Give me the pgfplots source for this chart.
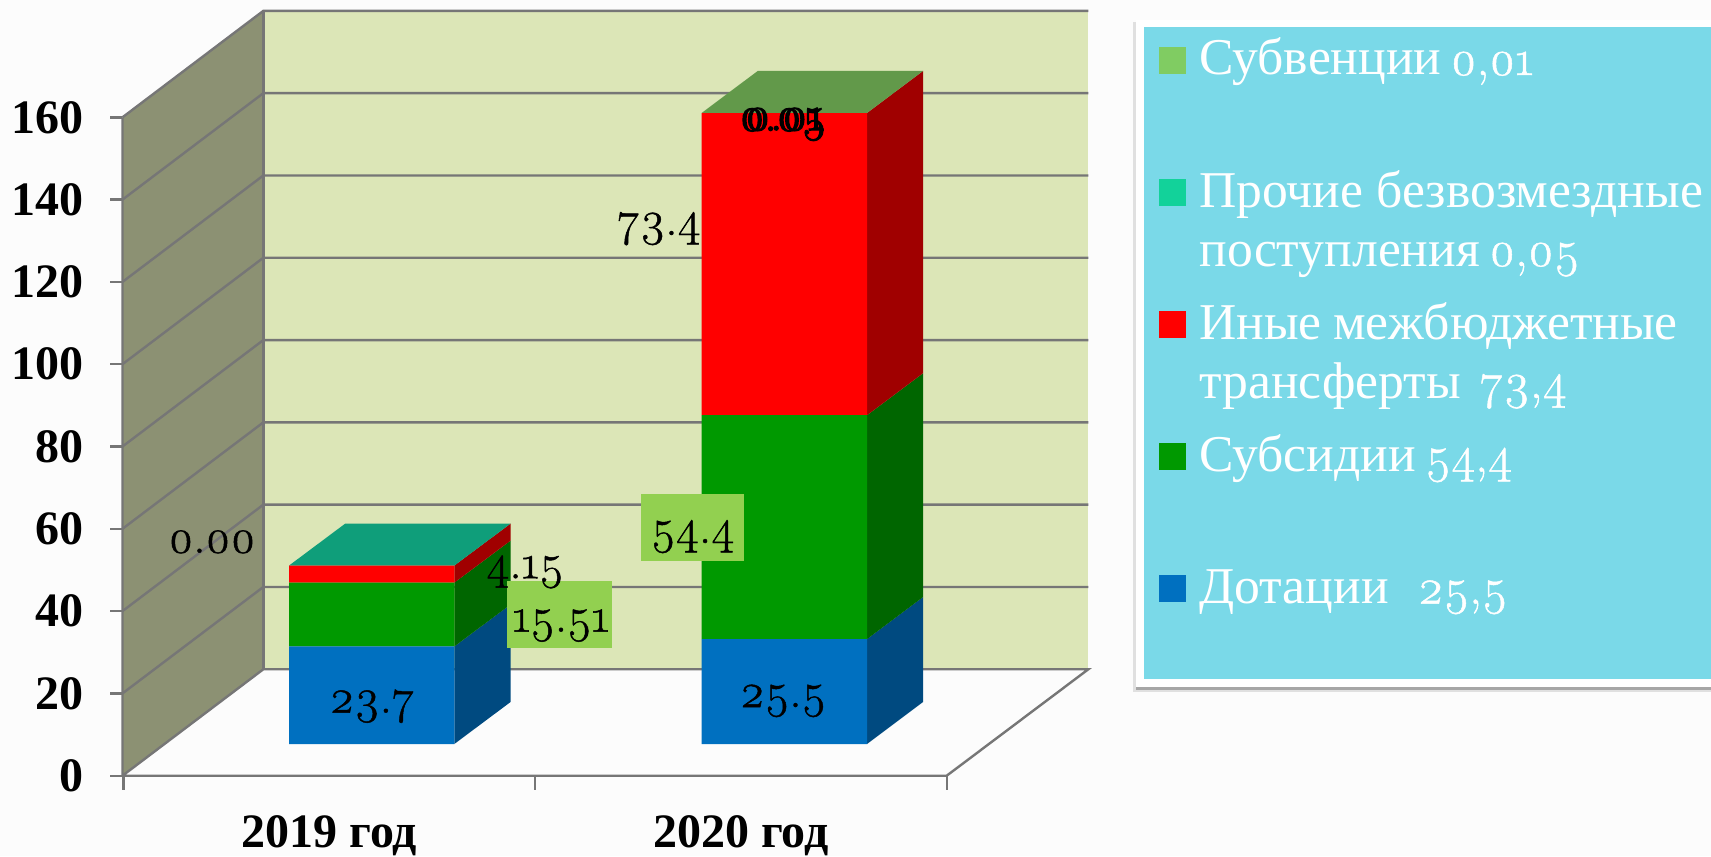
\documentclass[border=0pt]{standalone}
\usepackage{fontspec}
\setmainfont{Liberation Serif}
\newfontfamily\lmos{Latin Modern Roman}[Numbers=OldStyle,FakeBold=1.0]
\newfontfamily\lmosb{Latin Modern Roman}[Numbers=OldStyle,FakeBold=2.5]
\usepackage{pgfplots}
\pgfplotsset{compat=1.18}
\definecolor{wallL}{HTML}{8C9173}
\definecolor{wallB}{HTML}{DCE6B7}
\definecolor{gl}{HTML}{767676}
\definecolor{cBlue}{HTML}{0070C0}
\definecolor{cBlueS}{HTML}{004A80}
\definecolor{cGreen}{HTML}{009900}
\definecolor{cGreenS}{HTML}{006600}
\definecolor{cRed}{HTML}{FF0000}
\definecolor{cRedS}{HTML}{A00000}
\definecolor{cTealT}{HTML}{0F9E7A}
\definecolor{cLimeT}{HTML}{62994A}
\definecolor{cTeal}{HTML}{12D29A}
\definecolor{cLime}{HTML}{80CC62}
\definecolor{panel}{HTML}{7AD9E8}
\definecolor{lab}{HTML}{92D050}
\pgfplotsset{
  box/.style={scale only axis,width=794.25pt,height=387.85pt,xmin=122.5,xmax=1711,clip=false},
  poly/.style={fill=#1,draw=none,forget plot},
  grl/.style={draw=gl,line width=1.2pt,forget plot},
  barbox/.style={box,hide axis,ymin=-7.7,ymax=180.81}
}
\newcommand{\lf}{\fontsize{25.8}{26}\selectfont\color{white}\spaceskip=0.22em\relax}
\newcommand{\df}{\fontsize{24}{24}\lmos}
\newcommand{\ld}[1]{\hspace{-0.04em}{\fontsize{25}{26}\lmos #1}}
\begin{document}
\begin{tikzpicture}
\useasboundingbox (-61.25pt,-40.15pt) rectangle ++(855.5pt,428pt);
\fill[white!99!black] (-61.25pt,-40.15pt) rectangle ++(855.5pt,428pt);
% frame: walls, gridlines, value axis
\begin{axis}[box,ymin=0,ymax=188.51,
  axis line style={draw=none},
  tick align=outside,xtick pos=bottom,ytick pos=left,
  ytick={0,20,40,60,80,100,120,140,160},
  xtick={329.3,740.8},xticklabels={2019 год,2020 год},
  minor xtick={123.6,535,946.7},
  major tick length=6pt,minor tick length=7pt,
  ytick style={draw=gl,line width=1.2pt},
  xtick style={draw=none},
  minor x tick style={draw=gl,line width=1.2pt},
  /pgf/number format/assume math mode=true,
  tick label style={font=\fontsize{24}{24}\bfseries\selectfont,text=black},
  yticklabel style={xshift=-10pt},
  xticklabel style={yshift=-10.5pt},
]
\addplot[poly=wallL] coordinates {(122.5,0)(263.3,25.86)(263.3,185.86)(122.5,160)} -- cycle;
\addplot[poly=wallB] coordinates {(263.3,25.86)(1088.3,25.86)(1088.3,185.86)(263.3,185.86)} -- cycle;
\addplot[grl] coordinates {(122.5,160)(122.5,0)(946.7,0)(1088.3,25.86)(263.3,25.86)(122.5,0)};
\addplot[grl] coordinates {(263.3,25.86)(263.3,185.86)};
\addplot[grl] coordinates {(122.5,20)(263.3,45.86)(1088.3,45.86)};
\addplot[grl] coordinates {(122.5,40)(263.3,65.86)(1088.3,65.86)};
\addplot[grl] coordinates {(122.5,60)(263.3,85.86)(1088.3,85.86)};
\addplot[grl] coordinates {(122.5,80)(263.3,105.86)(1088.3,105.86)};
\addplot[grl] coordinates {(122.5,100)(263.3,125.86)(1088.3,125.86)};
\addplot[grl] coordinates {(122.5,120)(263.3,145.86)(1088.3,145.86)};
\addplot[grl] coordinates {(122.5,140)(263.3,165.86)(1088.3,165.86)};
\addplot[grl] coordinates {(122.5,160)(263.3,185.86)(1088.3,185.86)};
\end{axis}
% side and top faces of the bars
\begin{axis}[barbox]
\addplot[poly=cBlueS] coordinates {(454.3,0)(510.5,10.2)(510.5,33.9)(454.3,23.7)} -- cycle;
\addplot[poly=cGreenS] coordinates {(454.3,23.7)(510.5,33.9)(510.5,49.41)(454.3,39.21)} -- cycle;
\addplot[poly=cRedS] coordinates {(454.3,39.21)(510.5,49.41)(510.5,53.56)(454.3,43.36)} -- cycle;
\addplot[poly=cTealT] coordinates {(289,43.36)(454.3,43.36)(510.5,53.56)(345.2,53.56)} -- cycle;
\addplot[poly=cBlueS] coordinates {(867,0)(923,10.2)(923,35.7)(867,25.5)} -- cycle;
\addplot[poly=cGreenS] coordinates {(867,25.5)(923,35.7)(923,90.1)(867,79.9)} -- cycle;
\addplot[poly=cRedS] coordinates {(867,79.9)(923,90.1)(923,163.56)(867,153.36)} -- cycle;
\addplot[poly=cLimeT] coordinates {(701.7,153.36)(867,153.36)(923,163.56)(757.7,163.56)} -- cycle;
\end{axis}
% stacked bars: front faces
\begin{axis}[barbox,ybar stacked,bar width=165.3]
\addplot[fill=cBlue,draw=none] coordinates {(371.65,23.7)(784.35,25.5)};
\addplot[fill=cGreen,draw=none] coordinates {(371.65,15.51)(784.35,54.4)};
\addplot[fill=cRed,draw=none] coordinates {(371.65,4.15)(784.35,73.4)};
\addplot[fill=cTeal,draw=none] coordinates {(371.65,0.00)(784.35,0.05)};
\addplot[fill=cLime,draw=none] coordinates {(371.65,0.00)(784.35,0.01)};
\end{axis}
% overlay in picture pixels: labels and legend panel
\begin{axis}[box,hide axis,ymin=0,ymax=775.7,y dir=reverse]
\addplot[poly=lab] coordinates {(507,581)(612,581)(612,647.7)(507,647.7)} -- cycle;
\addplot[poly=lab] coordinates {(641,494)(744,494)(744,561)(641,561)} -- cycle;
\addplot[poly=black!12] coordinates {(1133,22)(1711,22)(1711,692)(1133,692)} -- cycle;
\addplot[poly=black!35] coordinates {(1136,686)(1711,686)(1711,690)(1136,690)} -- cycle;
\addplot[poly=white] coordinates {(1136,20)(1711,20)(1711,687)(1136,687)} -- cycle;
\addplot[poly=panel] coordinates {(1144.4,27.3)(1711,27.3)(1711,679.3)(1144.4,679.3)} -- cycle;
\addplot[poly=cLime] coordinates {(1159,47)(1185.8,47)(1185.8,74)(1159,74)} -- cycle;
\addplot[poly=cTeal] coordinates {(1159,179)(1185.8,179)(1185.8,206)(1159,206)} -- cycle;
\addplot[poly=cRed] coordinates {(1159,311)(1185.8,311)(1185.8,338)(1159,338)} -- cycle;
\addplot[poly=cGreen] coordinates {(1159,443)(1185.8,443)(1185.8,470)(1159,470)} -- cycle;
\addplot[poly=cBlue] coordinates {(1159,575)(1185.8,575)(1185.8,602)(1159,602)} -- cycle;
\tikzset{dl/.style={anchor=base,inner sep=0pt,font=\df},ll/.style={anchor=base west,inner sep=0pt,font=\lf}}
\node[dl] at (axis cs:372,712.7) {23.7};
\node[dl] at (axis cs:783,707) {25.5};
\node[dl] at (axis cs:692.7,543) {54.4};
\node[dl] at (axis cs:561,631.7) {15.51};
\node[dl] at (axis cs:525,578.3) {4.15};
\node[dl] at (axis cs:212,552.7) {0.00};
\node[dl] at (axis cs:659,235) {73.4};
\node[anchor=base,inner sep=0pt,font=\fontsize{24}{24}\lmosb] at (axis cs:783,130.7) {0.05};
\node[anchor=base,inner sep=0pt,font=\fontsize{24}{24}\lmosb] at (axis cs:785,130.2) {0.01};
\node[ll] at (axis cs:1199,75) {Субвенции \ld{0,01}};
\node[ll] at (axis cs:1199,207) {Прочие\hspace{0.04em} безвозмездные};
\node[ll] at (axis cs:1199,266) {поступления \ld{0,05}};
\node[ll] at (axis cs:1199,339) {Иные межбюджетные};
\node[ll] at (axis cs:1199,398) {трансферты\hspace{0.4em}\ld{73,4}};
\node[ll] at (axis cs:1199,471.7) {Субсидии \ld{54,4}};
\node[ll] at (axis cs:1199,603.7) {Дотации\hspace{0.6em}\ld{25,5}};
\end{axis}
\end{tikzpicture}
\end{document}
